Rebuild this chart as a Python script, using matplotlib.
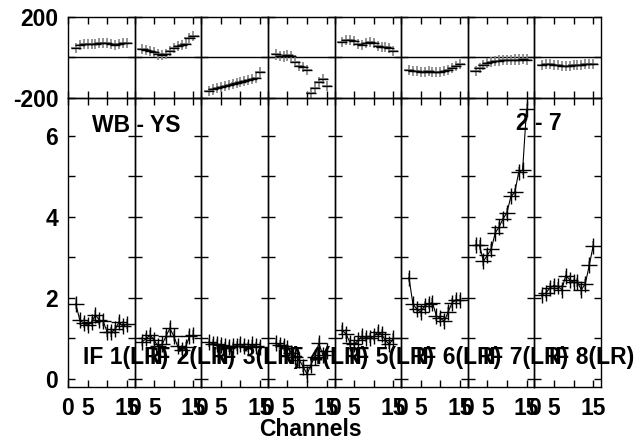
import numpy as np
import matplotlib.pyplot as plt

plt.rcParams['font.family'] = ['Liberation Sans', 'DejaVu Sans']
plt.rcParams['font.weight'] = 'bold'

# channels plotted in every IF
chan = np.arange(2, 16)

# phase (deg) per IF
ph_if1 = [45, 60, 65, 68, 68, 68, 70, 70, 70, 65, 62, 65, 70, 72]
ph_if2 = [40, 35, 30, 25, 15, 12, 18, 30, 45, 55, 62, 65, 95, 108]
ph_if3 = [-165, -158, -152, -146, -140, -136, -132, -128, -120, -115, -110, -105, -100, -70]
ph_if4 = [15, 8, 5, 10, 5, -20, -40, -45, -60, -175, -150, -120, -105, -140]
ph_if5 = [78, 85, 88, 80, 65, 60, 70, 75, 72, 55, 52, 50, 45, 32]
ph_if6 = [-62, -65, -68, -70, -70, -68, -70, -72, -70, -68, -60, -50, -40, -30]
ph_if7 = [-68, -52, -35, -28, -22, -18, -15, -14, -12, -12, -10, -10, -8, -10]
ph_if8 = [-35, -30, -32, -36, -38, -40, -42, -40, -38, -36, -35, -34, -32, -30]

# amplitude per IF
amp_if1 = [1.85, 1.45, 1.38, 1.32, 1.40, 1.58, 1.45, 1.42, 1.15, 1.15, 1.22, 1.40, 1.30, 1.35]
amp_if2 = [0.92, 1.00, 1.08, 0.95, 0.80, 0.85, 1.05, 1.25, 1.05, 0.80, 0.72, 0.78, 1.05, 1.08]
amp_if3 = [0.90, 0.87, 0.86, 0.84, 0.80, 0.78, 0.80, 0.82, 0.86, 0.80, 0.78, 0.85, 0.80, 0.78]
amp_if4 = [0.88, 0.84, 0.82, 0.75, 0.65, 0.55, 0.47, 0.30, 0.12, 0.35, 0.55, 0.88, 0.60, 0.70]
amp_if5 = [1.20, 1.10, 0.88, 0.85, 0.95, 1.05, 1.02, 1.00, 1.05, 1.15, 1.10, 0.95, 0.85, 1.00]
amp_if6 = [2.50, 1.85, 1.72, 1.65, 1.80, 1.85, 1.88, 1.55, 1.50, 1.42, 1.65, 1.88, 1.95, 1.95]
amp_if7 = [3.30, 3.30, 2.90, 3.05, 3.20, 3.60, 3.75, 3.95, 4.10, 4.50, 4.60, 5.10, 5.15, 6.65]
amp_if8 = [2.08, 2.12, 2.25, 2.30, 2.28, 2.20, 2.55, 2.45, 2.38, 2.38, 2.20, 2.35, 2.80, 3.28]

phases = [ph_if1, ph_if2, ph_if3, ph_if4, ph_if5, ph_if6, ph_if7, ph_if8]
amps = [amp_if1, amp_if2, amp_if3, amp_if4, amp_if5, amp_if6, amp_if7, amp_if8]
labels = ["IF 1(LR)", "IF 2(LR)", "IF 3(LR)", "IF 4(LR)",
          "IF 5(LR)", "IF 6(LR)", "IF 7(LR)", "IF 8(LR)"]

W, H = 641, 440
fig = plt.figure(figsize=(W / 100, H / 100), dpi=100)

x0, x1 = 68 / W, 601 / W
ytop, ymid, ybot = 1 - 17 / H, 1 - 98 / H, 1 - 387 / H
pw = (x1 - x0) / 8
fs = 16.5

for i in range(8):
    left = x0 + i * pw
    axp = fig.add_axes([left, ymid, pw, ytop - ymid])
    axa = fig.add_axes([left, ybot, pw, ymid - ybot])
    for ax in (axp, axa):
        ax.set_facecolor('none')
        ax.set_xlim(0, 17)
        ax.set_xticks([0, 5, 10, 15])
        ax.tick_params(direction='in', length=5, width=1, top=True, right=True,
                       labelsize=fs, pad=7)
        for s in ax.spines.values():
            s.set_linewidth(1)

    # phase
    axp.set_ylim(-200, 200)
    axp.set_yticks([-200, 0, 200])
    axp.axhline(0, color='black', lw=1)
    axp.errorbar(chan, phases[i], xerr=1.3, yerr=25, fmt='none',
                 ecolor='gray', elinewidth=1.2)
    axp.errorbar(chan, phases[i], xerr=1.3, fmt='none', ecolor='black',
                 elinewidth=1)
    axp.set_xticklabels([])

    # amplitude
    axa.set_ylim(-0.2, 6.93)
    axa.set_yticks(range(0, 7))
    axa.errorbar(chan, amps[i], yerr=0.12, fmt='none', ecolor='gray',
                 elinewidth=1.2)
    axa.plot(chan, amps[i], color='black', lw=0.8, marker='+', ms=11, mew=1)
    axa.set_xticklabels(['0', '5', '', '15'], fontweight='bold')
    axa.text(3.8, 0.52, labels[i], fontsize=fs, fontweight='bold',
             ha='left', va='center', clip_on=False, zorder=10)

    if i == 0:
        axp.set_yticklabels(['-200', '', '200'], fontweight='bold')
        axa.set_yticklabels(['0', '', '2', '', '4', '', '6'], fontweight='bold')
    else:
        axp.set_yticklabels([])
        axa.set_yticklabels([])

fig.text(92 / W, 1 - 125 / H, "WB - YS", fontsize=fs, fontweight='bold',
         ha='left', va='center')
fig.text(516 / W, 1 - 123 / H, "2 - 7", fontsize=fs, fontweight='bold',
         ha='left', va='center')
fig.text(310 / W, 1 - 429 / H, "Channels", fontsize=fs, fontweight='bold',
         ha='center', va='center')

fig.savefig("out.png", dpi=100)
